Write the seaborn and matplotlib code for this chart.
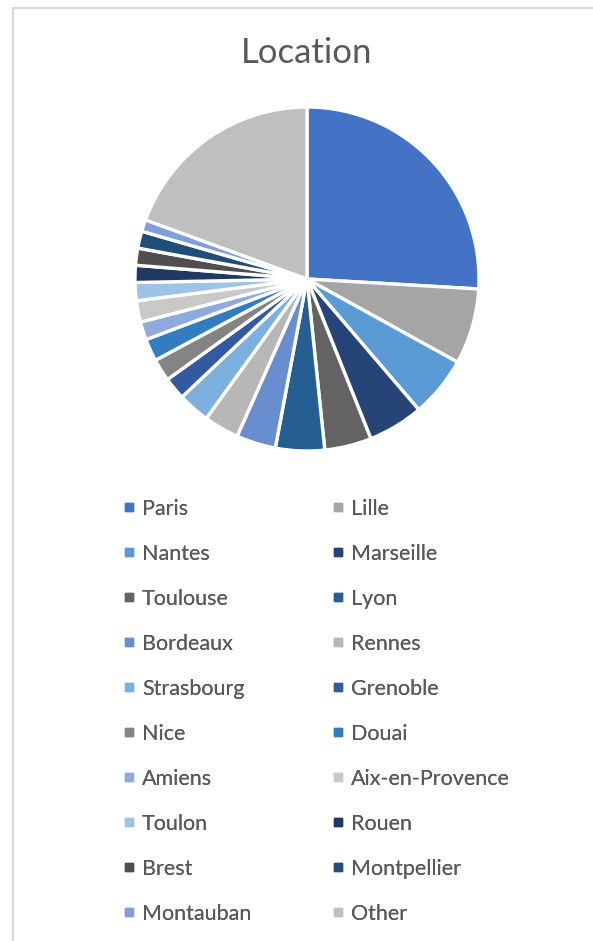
import matplotlib
matplotlib.use("Agg")
import matplotlib.pyplot as plt
from matplotlib.lines import Line2D
from matplotlib.patches import Rectangle
import seaborn as sns

# ---- data ----
cities = ["Paris", "Lille", "Nantes", "Marseille", "Toulouse", "Lyon", "Bordeaux",
          "Rennes", "Strasbourg", "Grenoble", "Nice", "Douai", "Amiens",
          "Aix-en-Provence", "Toulon", "Rouen", "Brest", "Montpellier",
          "Montauban", "Other"]
shares = [25.9, 7.1, 5.7, 5.2, 4.4, 4.6, 3.7, 3.3, 3.0, 2.1, 2.1, 2.1, 1.7,
          2.0, 1.7, 1.6, 1.6, 1.6, 1.1, 19.4]
colors = ["#4472C4", "#A5A5A5", "#5B9BD5", "#264478", "#636363", "#255E91",
          "#698ED0", "#B7B7B7", "#7CAFDD", "#335AA1", "#848484", "#327DC2",
          "#8FAADC", "#C9C9C9", "#9DC3E6", "#203864", "#4F4F4F", "#1F4E79",
          "#7F9FDA", "#BFBFBF"]
title = "Location"

sns.set_theme(style="white")
plt.rcParams["font.family"] = ["Lato", "DejaVu Sans"]
text_color = "#595959"

W, H = 593, 941
fig = plt.figure(figsize=(W / 100, H / 100), dpi=100)
fig.patch.set_facecolor("white")

# chart border (top and left visible)
fig.add_artist(Rectangle((13 / W, -0.1), 1.2, (H - 8) / H + 0.1,
                         transform=fig.transFigure, fill=False,
                         edgecolor="#D9D9D9", linewidth=1.5))

cx, cy, r = 307, 279, 172
ax = fig.add_axes([(cx - r) / W, (H - cy - r) / H, 2 * r / W, 2 * r / H])
wedges, _ = ax.pie(shares, colors=colors, startangle=90, counterclock=False,
                   radius=1.0,
                   wedgeprops=dict(edgecolor="white", linewidth=2.4))
ax.set_xlim(-1, 1)
ax.set_ylim(-1, 1)
ax.set_aspect("equal")
ax.axis("off")

fig.text(cx / W, 1 - 53 / H, title, ha="center", va="center",
         fontsize=25, color=text_color)

handles = [Line2D([0], [0], marker="s", linestyle="none", markersize=6,
                  markerfacecolor=c, markeredgecolor=c) for c in colors]

for col, xpx in enumerate([121, 330]):
    idx = list(range(col, len(cities), 2))
    leg = fig.legend([handles[i] for i in idx], [cities[i] for i in idx],
                     loc="upper left", bbox_to_anchor=(xpx / W, 1 - 499 / H),
                     frameon=False, fontsize=15.5, labelcolor=text_color,
                     handlelength=0.75, handletextpad=0.22, labelspacing=1.16,
                     borderpad=0, borderaxespad=0)
    fig.add_artist(leg)

fig.savefig("out.png", dpi=100, facecolor="white")
